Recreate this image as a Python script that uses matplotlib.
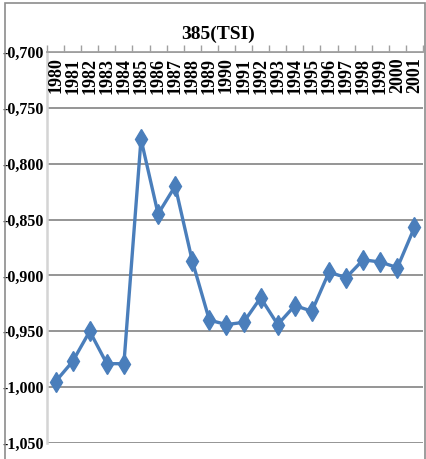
import matplotlib
matplotlib.use("Agg")
import matplotlib.pyplot as plt
from matplotlib.patches import Rectangle

years = ["1980", "1981", "1982", "1983", "1984", "1985", "1986", "1987", "1988", "1989", "1990",
         "1991", "1992", "1993", "1994", "1995", "1996", "1997", "1998", "1999", "2000", "2001"]
values = [-0.995, -0.977, -0.950, -0.979, -0.979, -0.778, -0.845, -0.820, -0.887, -0.940, -0.944,
          -0.942, -0.920, -0.944, -0.927, -0.932, -0.897, -0.902, -0.886, -0.888, -0.893, -0.857]
yticks = [-1.050, -1.000, -0.950, -0.900, -0.850, -0.800, -0.750, -0.700]
title = "385(TSI)"

W, H = 427, 459
fig = plt.figure(figsize=(W / 100, H / 100), dpi=100)
fig.patch.set_facecolor("white")
ax = fig.add_axes([47 / W, 1 - 443 / H, (423 - 47) / W, (443 - 52) / H])

font = "Liberation Serif"
x = list(range(len(years)))
ax.plot(x, values, color="#4a7ebb", lw=2.4, marker="d", ms=10, mfc="#4a7ebb", mec="#4a7ebb",
        zorder=5, solid_joinstyle="miter")

ax.set_xlim(-0.5, len(years) - 0.5)
ax.set_ylim(-1.05, -0.70)
ax.set_yticks(yticks)
ax.set_yticklabels([f"{v:.3f}".replace(".", ",") for v in yticks], fontfamily=font,
                   fontweight="bold", fontsize=11.5)
ax.tick_params(axis="y", length=0, pad=2)
ax.grid(axis="y", color="#8c8c8c", lw=1.3)
ax.set_axisbelow(True)

# category axis at top with tick marks between categories
ax.set_xticks([])
ax.set_xticks([i - 0.5 for i in range(len(years) + 1)], minor=True)
ax.xaxis.set_ticks_position("top")
ax.tick_params(axis="x", which="minor", direction="out", length=5, color="#a0a0a0", width=1,
               labeltop=False)
for i, lab in enumerate(years):
    ax.annotate(lab, xy=(i, -0.70), xytext=(0, -4), textcoords="offset points",
                rotation=90, ha="center", va="top", fontfamily=font, fontweight="bold",
                fontsize=13, annotation_clip=False)

for s in ["right", "bottom"]:
    ax.spines[s].set_visible(False)
ax.spines["top"].set_color("#a0a0a0")
ax.spines["top"].set_linewidth(1.3)
ax.spines["left"].set_color("#d4d4d4")
ax.spines["left"].set_linewidth(1.8)

fig.text(218 / W, 1 - 34 / H, title, ha="center", va="center", fontfamily=font,
         fontweight="bold", fontsize=14)

fig.patches.append(Rectangle((5 / W, -0.05), (425 - 5) / W, 1.05 - 3 / H, transform=fig.transFigure,
                             fill=False, edgecolor="#8c8c8c", lw=1.2))

fig.savefig("out.png", dpi=100, facecolor="white")
